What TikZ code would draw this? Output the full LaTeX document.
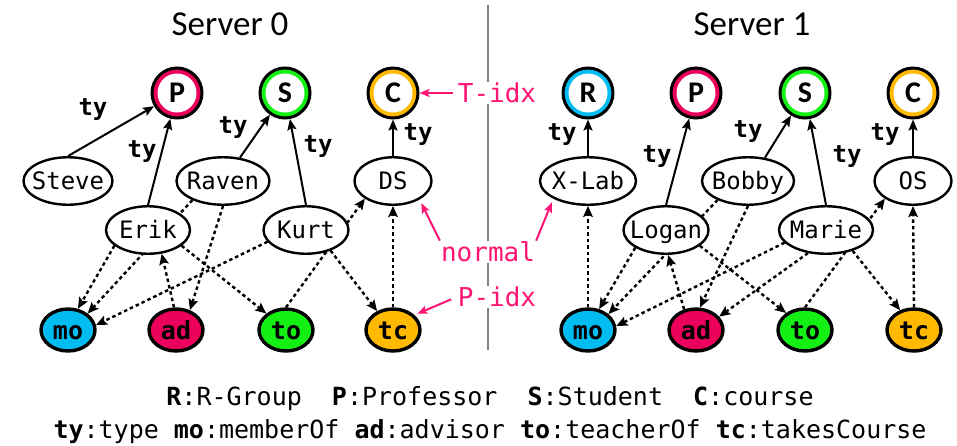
\documentclass[tikz,border=0pt]{standalone}
\usepackage{fontspec}
\setmainfont{Carlito}
\setsansfont{Carlito}
\setmonofont{DejaVu Sans Mono}
\usetikzlibrary{arrows.meta,shapes.geometric}

\definecolor{profc}{RGB}{235,0,92}
\definecolor{studc}{RGB}{20,240,20}
\definecolor{coursec}{RGB}{255,185,0}
\definecolor{groupc}{RGB}{0,188,240}
\definecolor{notec}{RGB}{255,20,115}
\definecolor{divc}{RGB}{130,130,130}

\pgfdeclarelayer{back}
\pgfdeclarelayer{edges}
\pgfsetlayers{back,edges,main}

\begin{document}
\begin{tikzpicture}[x=1pt,y=-1pt,
  title/.style={font=\fontsize{35}{35}\selectfont, inner sep=0pt},
  typec/.style={circle, draw=black, line width=3pt, minimum size=50pt, inner sep=0pt,
    fill=#1, text height=19pt, text depth=0pt,
    path picture={\fill[white] (path picture bounding box.center) circle (19.5pt);},
    font=\bfseries\fontsize{30}{30}\selectfont},
  ent/.style={ellipse, draw=black, line width=2.4pt, fill=white, minimum height=47.5pt,
    inner xsep=-12pt, inner ysep=-6pt, text height=17.5pt, text depth=0pt,
    font=\ttfamily\fontsize{24}{24}\selectfont},
  pred/.style={ellipse, draw=black, line width=3.4pt, fill=#1, minimum width=54pt,
    minimum height=42pt, inner sep=-6pt, text height=18pt, text depth=0pt,
    font=\ttfamily\bfseries\fontsize{25}{25}\selectfont},
  tyedge/.style={-{Stealth[length=11pt,width=9pt,inset=2pt]}, line width=2pt},
  reledge/.style={-{Stealth[length=11pt,width=9.5pt,inset=2pt]}, line width=2.4pt,
    dash pattern=on 3.5pt off 3pt},
  tylab/.style={font=\ttfamily\bfseries\fontsize{24}{24}\selectfont, inner sep=0pt},
  note/.style={text=notec, fill=white, inner sep=1pt,
    font=\ttfamily\fontsize{26}{26}\selectfont},
  notearrow/.style={draw=notec, line width=2pt, -{Stealth[length=10pt,width=8pt,inset=2pt]}},
  legend/.style={font=\ttfamily\fontsize{25}{25}\selectfont, inner sep=0pt},
  divider/.style={draw=divc, line width=2pt}
]
\useasboundingbox (0,0) rectangle (957,445);
\begin{pgfonlayer}{back}
  \fill[white] (0,0) rectangle (957,445);
\end{pgfonlayer}

% ---------------- titles ----------------
\node[title] (srv0) at (230,24) {Server 0};
\node[title] (srv1) at (752,24) {Server 1};

% ---------------- server 0 ----------------
\node[typec=profc]   (P0) at (177,93) {P};
\node[typec=studc]   (S0) at (285,93) {S};
\node[typec=coursec] (C0) at (393,93) {C};

\node[ent, minimum width=89pt] (steve) at (68,181)  {Steve};
\node[ent, minimum width=93pt] (raven) at (223,181) {Raven};
\node[ent, minimum width=77pt] (ds)    at (393,181) {DS};
\node[ent, minimum width=84pt] (erik)  at (148,230) {Erik};
\node[ent, minimum width=85pt] (kurt)  at (306,230) {Kurt};

\node[pred=groupc]  (mo0) at (68,330)  {mo};
\node[pred=profc]   (ad0) at (176,330) {ad};
\node[pred=studc]   (to0) at (286,330) {to};
\node[pred=coursec] (tc0) at (393,330) {tc};

% ---------------- server 1 ----------------
\node[typec=groupc]  (R1) at (588,93) {R};
\node[typec=profc]   (P1) at (696,93) {P};
\node[typec=studc]   (S1) at (805,93) {S};
\node[typec=coursec] (C1) at (913,93) {C};

\node[ent, minimum width=96pt] (xlab)  at (588,181) {X-Lab};
\node[ent, minimum width=92pt] (bobby) at (748,181) {Bobby};
\node[ent, minimum width=77pt] (os)    at (913,181) {OS};
\node[ent, minimum width=85pt] (logan) at (666,230) {Logan};
\node[ent, minimum width=94pt] (marie) at (826,230) {Marie};

\node[pred=groupc]  (mo1) at (588,330) {mo};
\node[pred=profc]   (ad1) at (696,330) {ad};
\node[pred=studc]   (to1) at (805,330) {to};
\node[pred=coursec] (tc1) at (914,330) {tc};

% ---------------- type labels ----------------
\node[tylab] (ty01) at (93,110)  {ty};
\node[tylab] (ty02) at (142,152) {ty};
\node[tylab] (ty03) at (233,128) {ty};
\node[tylab] (ty04) at (318,147) {ty};
\node[tylab] (ty05) at (418,135) {ty};
\node[tylab] (ty11) at (562,135) {ty};
\node[tylab] (ty12) at (657,157) {ty};
\node[tylab] (ty13) at (748,132) {ty};
\node[tylab] (ty14) at (847,157) {ty};
\node[tylab] (ty15) at (885,135) {ty};

% ---------------- edges (behind the nodes) ----------------
\coordinate (divtop) at (488,5);
\coordinate (divbot) at (488,350);
\begin{pgfonlayer}{edges}
  \draw[divider] (divtop) -- (divbot);

  % type edges, server 0
  \draw[tyedge] (steve.north) -- (P0);
  \draw[tyedge] (erik.north)  -- (P0);
  \draw[tyedge] (raven.54)    -- (S0);
  \draw[tyedge] (kurt.north)  -- (S0);
  \draw[tyedge] (ds.north)    -- (C0);
  % type edges, server 1
  \draw[tyedge] (xlab.north)  -- (R1);
  \draw[tyedge] (logan.north) -- (P1);
  \draw[tyedge] (bobby.54)    -- (S1);
  \draw[tyedge] (marie.north) -- (S1);
  \draw[tyedge] (os.north)    -- (C1);

  % relation edges, server 0
  \draw[reledge] (erik.205)    -- (mo0.65);
  \draw[reledge] (raven.212)   -- (mo0.40);
  \draw[reledge] (kurt.197)    -- (mo0.10);
  \draw[reledge] (raven.south) -- (ad0.55);
  \draw[reledge] (ad0.95)      -- (erik.-60);
  \draw[reledge] (erik.-25)    -- (to0.140);
  \draw[reledge] (to0.north)   -- (ds.-148);
  \draw[reledge] (kurt.-40)    -- (tc0.130);
  \draw[reledge] (tc0.north)   -- (ds.south);

  % relation edges, server 1
  \draw[reledge] (mo1.north)   -- (xlab.south);
  \draw[reledge] (logan.210)   -- (mo1.62);
  \draw[reledge] (bobby.212)   -- (mo1.38);
  \draw[reledge] (marie.197)   -- (mo1.8);
  \draw[reledge] (bobby.south) -- (ad1.80);
  \draw[reledge] (ad1.120)     -- (logan.-85);
  \draw[reledge] (marie.232)   -- (ad1.30);
  \draw[reledge] (logan.-25)   -- (to1.138);
  \draw[reledge] (to1.north)   -- (os.-148);
  \draw[reledge] (marie.-38)   -- (tc1.125);
  \draw[reledge] (tc1.north)   -- (os.south);
\end{pgfonlayer}

% ---------------- index annotations ----------------
\node[note] (tidx)   at (497,93)  {T-idx};
\node[note] (normal) at (488,252) {normal};
\node[note] (pidx)   at (497,297) {P-idx};
\draw[notearrow, shorten <=4pt] (tidx.west) -- (C0.east);
\draw[notearrow, shorten >=4pt] (normal.north west) -- (ds.-35);
\draw[notearrow, shorten >=4pt] (normal.north east) -- (xlab.-153);
\draw[notearrow, shorten <=6pt, shorten >=3pt] (pidx.west) -- (tc0.35);

% ---------------- legend ----------------
\node[legend] (leg1) at (490,399)
  {\textbf{R}:R-Group~~\textbf{P}:Professor~~\textbf{S}:Student~~\textbf{C}:course};
\node[legend] (leg2) at (490,432)
  {\textbf{ty}:type \textbf{mo}:memberOf \textbf{ad}:advisor \textbf{to}:teacherOf \textbf{tc}:takesCourse};
\end{tikzpicture}
\end{document}
